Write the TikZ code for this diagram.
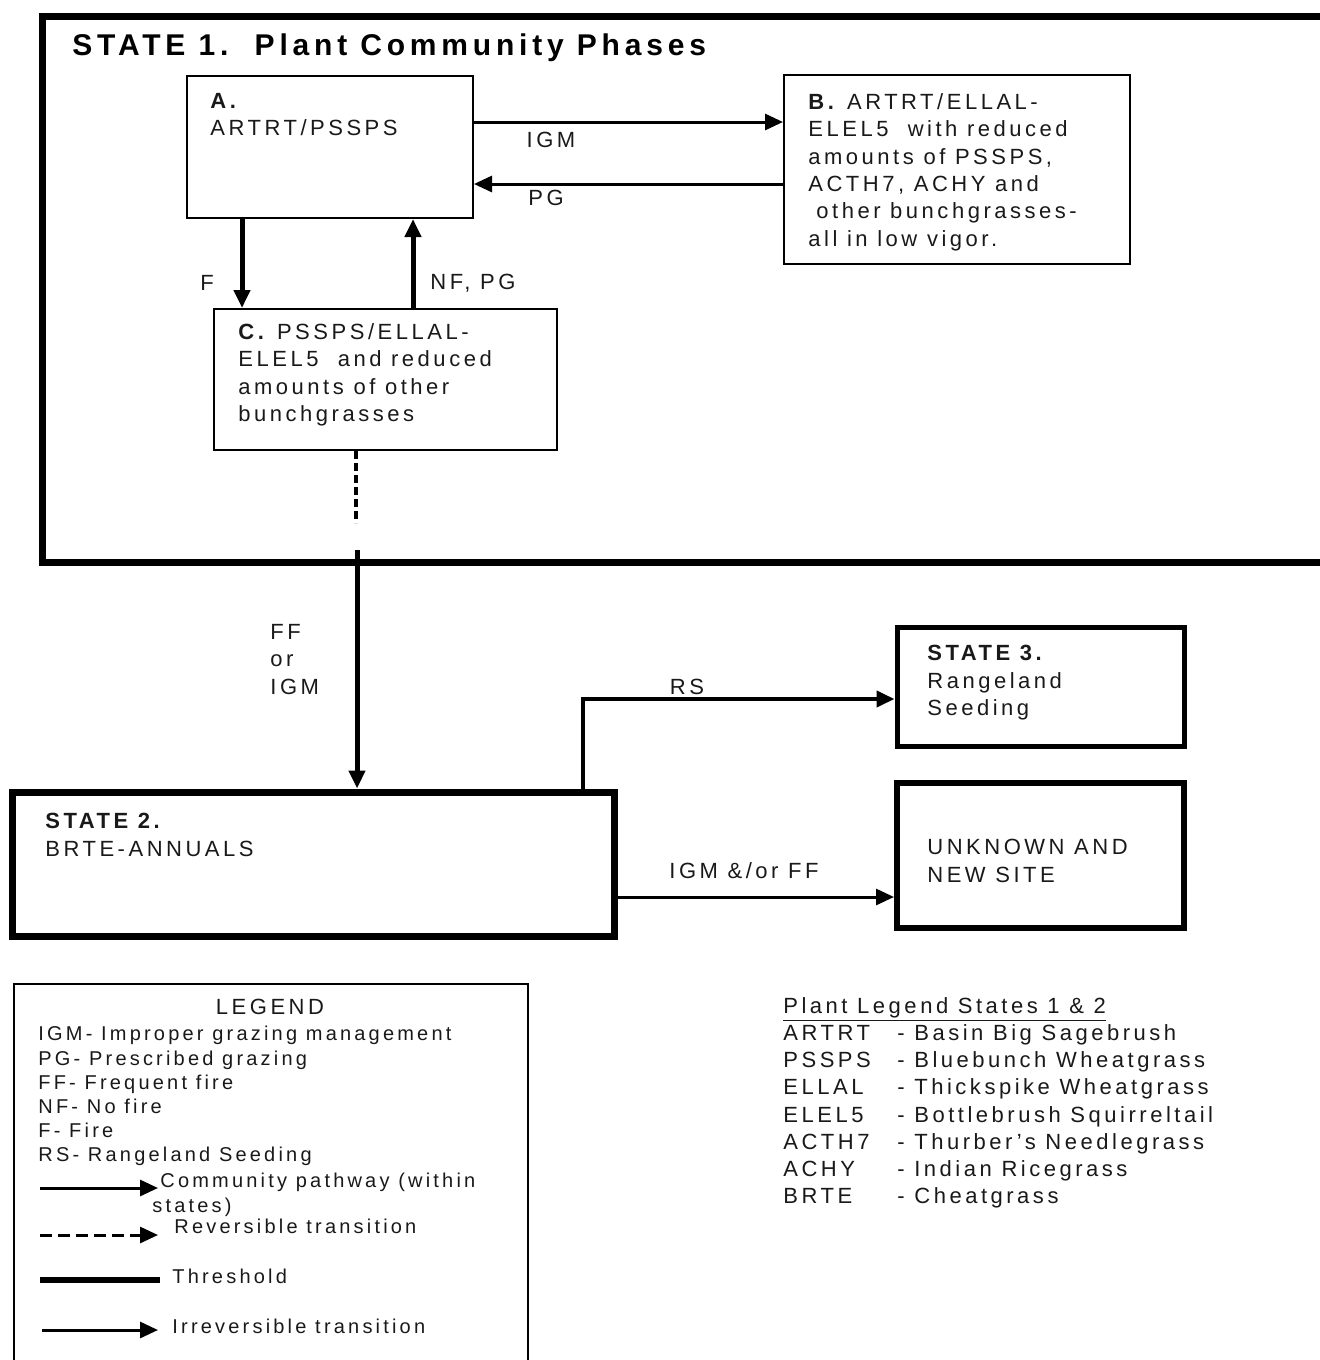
\documentclass[tikz,border=0pt]{standalone}
\usepackage{fontspec}
\setmainfont{Liberation Sans}[LetterSpace=16]
\usetikzlibrary{arrows.meta,fit}
\tikzset{
  phase/.style={draw,line width=1pt,inner sep=0pt},
  statebox/.style={draw,line width=3.5pt,inner sep=0pt},
  txt/.style={inner sep=0pt,align=left,anchor=north west,text=black!90,
    font=\fontsize{11}{13.7}\selectfont},
  lbl/.style={inner sep=0pt,text=black!90,font=\fontsize{11}{13.7}\selectfont},
  pathway/.style={->,line width=1.5pt},
  heavy/.style={->,line width=2.5pt},
}
\begin{document}
\begin{tikzpicture}[x=0.5pt,y=-0.5pt,>={Triangle[length=9pt,width=8pt]}]
\useasboundingbox (0,0) rectangle (1320,1360);
% state 1 frame
\node[statebox,fit={(42,16) (1345,562)}] (S1) {};
\node[anchor=west,inner sep=0pt,font=\bfseries\fontsize{15}{17}\selectfont] (S1title) at (72,48)
  {STATE 1.\ \ Plant Community Phases};
% phases
\node[phase,fit={(187,76) (473,218)}] (A) {};
\node[txt] (Atxt) at (210,93) {\textbf{A.}\\ARTRT/PSSPS};
\node[phase,fit={(784,75) (1130,264)}] (B) {};
\node[txt] (Btxt) at (808,93) {\textbf{B.} ARTRT/ELLAL-\\ELEL5\ \ with reduced\\amounts of PSSPS,\\
  ACTH7, ACHY and\\\hspace*{4pt}other bunchgrasses-\\all in low vigor.};
\node[phase,fit={(214,309) (557,450)}] (C) {};
\node[txt] (Ctxt) at (238,323) {\textbf{C.} PSSPS/ELLAL-\\ELEL5\ \ and reduced\\amounts of other\\bunchgrasses};
% pathways
\coordinate (igmA) at ([yshift=12.5pt]A.east);
\draw[pathway] (igmA) -- (igmA -| B.west);
\node[lbl] (igm) at (551,140) {IGM};
\coordinate (pgB) at ([yshift=-7.25pt]B.west);
\draw[pathway] (pgB) -- (pgB -| A.east);
\node[lbl] (pg) at (546,198) {PG};
\coordinate (fA) at ([xshift=28pt]A.south west);
\draw[heavy] (fA) -- (fA |- C.north);
\node[lbl] (f) at (207,283) {F};
\coordinate (nfA) at ([xshift=113.5pt]A.south west);
\draw[heavy] (nfA |- C.north) -- (nfA);
\node[lbl,anchor=west] (nfpg) at (430,283) {NF, PG};
\coordinate (dC) at ([xshift=71.5pt]C.south west);
\draw[line width=2pt,dash pattern=on 4pt off 2pt] (dC) -- ++(0,72);
% states 2, 3 and unknown
\node[statebox,fit={(12,792) (614,936)}] (S2) {};
\node[txt] (S2txt) at (45,813) {\textbf{STATE 2.}\\BRTE-ANNUALS};
\node[statebox,line width=2.5pt,fit={(897,627) (1184,746)}] (S3) {};
\node[txt] (S3txt) at (927,645) {\textbf{STATE 3.}\\Rangeland\\Seeding};
\node[statebox,line width=3pt,fit={(897,783) (1184,928)}] (U) {};
\node[txt] (Utxt) at (927,839) {UNKNOWN AND\\NEW SITE};
% transitions
\coordinate (thr) at (357,550);
\draw[heavy] (thr) -- (thr |- S2.north);
\node[lbl,align=left,anchor=north west] (ffigm) at (270,624) {FF\\or\\IGM};
\coordinate (rs) at (583,699);
\draw[->,line width=2pt] (rs |- S2.north) -- (rs) -- (rs -| S3.west);
\node[lbl] (rslbl) at (687,687) {RS};
\coordinate (iff) at ([yshift=-16.5pt]S2.east);
\draw[pathway] (iff) -- (iff -| U.west);
\node[lbl,anchor=west] (iffl) at (669,871) {IGM \&/or FF};
% legend
\node[phase,fit={(14,984) (528,1380)}] (L) {};
\node[lbl,font=\fontsize{11}{13}\selectfont] (Ltitle) at (270,1007) {LEGEND};
\node[txt,font=\fontsize{10}{12.1}\selectfont] (Ltxt) at (38,1026) {IGM- Improper grazing management\\
  PG- Prescribed grazing\\FF- Frequent fire\\NF- No fire\\F- Fire\\RS- Rangeland Seeding};
\coordinate (k1) at (40,1188);
\draw[pathway] (k1) -- ++(118,0);
\node[txt,font=\fontsize{10}{12.1}\selectfont] (k1txt) at (152,1173) {\hspace*{4pt}Community pathway (within\\states)};
\coordinate (k2) at (40,1235);
\draw[pathway,dash pattern=on 6pt off 3pt] (k2) -- ++(118,0);
\node[lbl,anchor=west,font=\fontsize{10}{12.1}\selectfont] (k2txt) at (174,1226) {Reversible transition};
\coordinate (k3) at (40,1280);
\draw[line width=3pt] (k3) -- ++(120,0);
\node[lbl,anchor=west,font=\fontsize{10}{12.1}\selectfont] (k3txt) at (172,1276) {Threshold};
\coordinate (k4) at (42,1330);
\draw[pathway] (k4) -- ++(116,0);
\node[lbl,anchor=west,font=\fontsize{10}{12.1}\selectfont] (k4txt) at (172,1326) {Irreversible transition};
% plant legend
\node[txt,font=\fontsize{11}{13.6}\selectfont] (plants) at (783,997) {\underline{Plant Legend States 1 \& 2}\\
  \makebox[57pt][l]{ARTRT}- Basin Big Sagebrush\\
  \makebox[57pt][l]{PSSPS}- Bluebunch Wheatgrass\\
  \makebox[57pt][l]{ELLAL}- Thickspike Wheatgrass\\
  \makebox[57pt][l]{ELEL5}- Bottlebrush Squirreltail\\
  \makebox[57pt][l]{ACTH7}- Thurber's Needlegrass\\
  \makebox[57pt][l]{ACHY}- Indian Ricegrass\\
  \makebox[57pt][l]{BRTE}- Cheatgrass};
\end{tikzpicture}
\end{document}
